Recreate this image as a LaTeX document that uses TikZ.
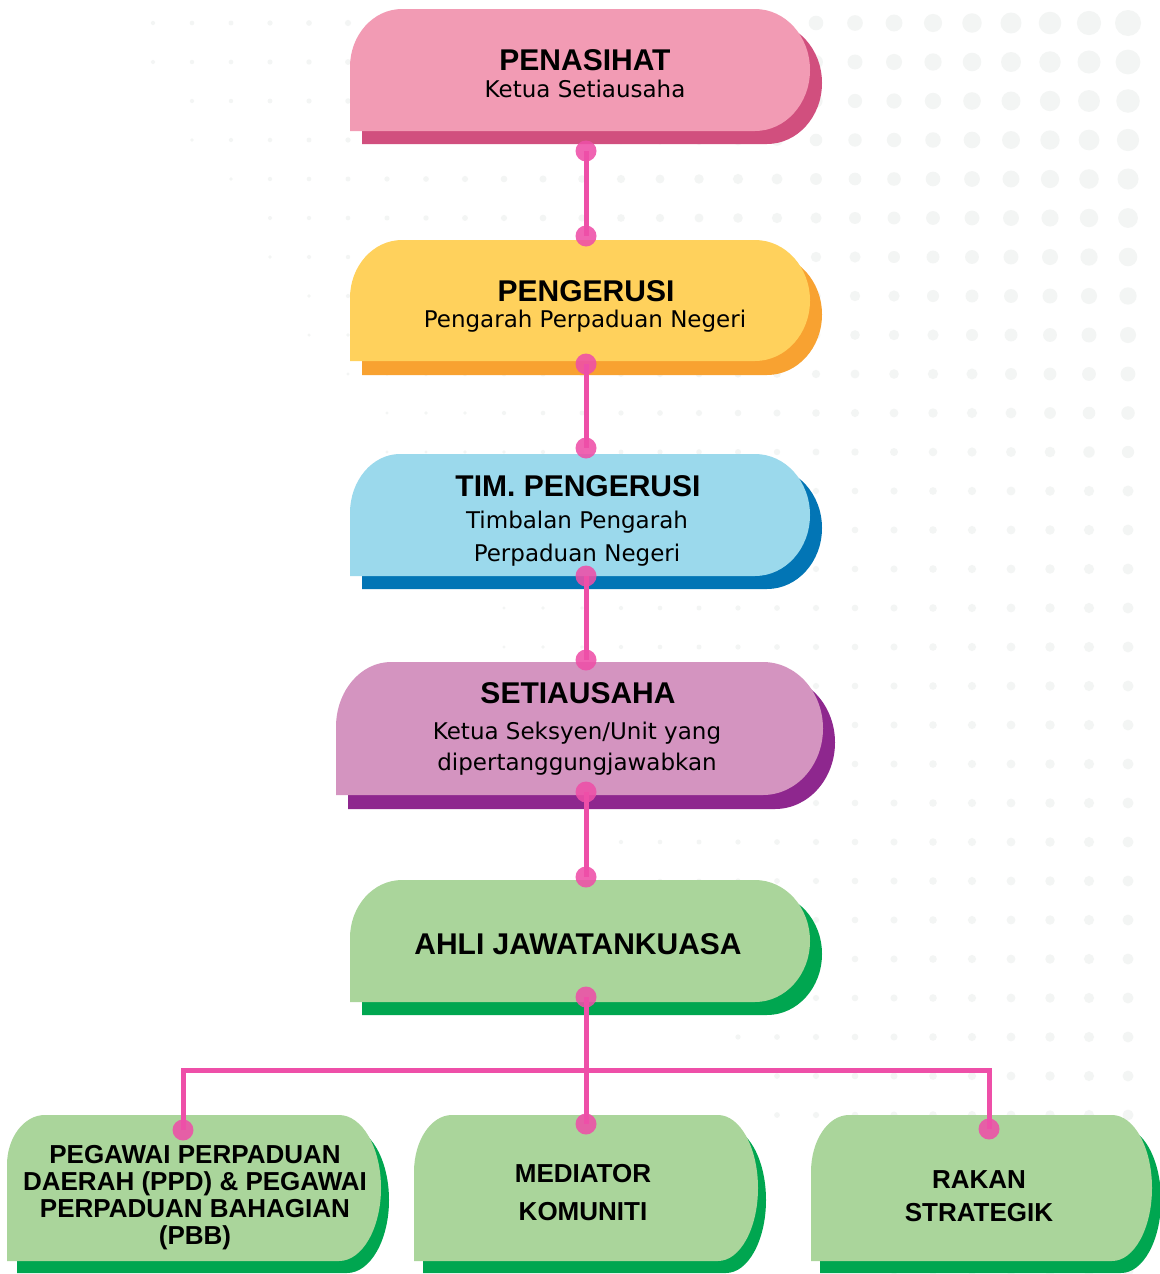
\documentclass[tikz,border=0pt]{standalone}
\usepackage{fontspec}
\setmainfont{Liberation Sans}
\newfontfamily\subf{DejaVu Sans}
\definecolor{pkmain}{HTML}{F29BB4}
\definecolor{pkdark}{HTML}{D14F7E}
\definecolor{ylmain}{HTML}{FFD15C}
\definecolor{yldark}{HTML}{F8A231}
\definecolor{blmain}{HTML}{9BD9EC}
\definecolor{bldark}{HTML}{0275B5}
\definecolor{pumain}{HTML}{D494C0}
\definecolor{pudark}{HTML}{8E278E}
\definecolor{grmain}{HTML}{AAD59B}
\definecolor{grdark}{HTML}{00A650}
\definecolor{linkc}{HTML}{EE4FA8}
\definecolor{dotbg}{HTML}{F3F5F4}
% left top right bottom tl-rx tl-ry right-rx fill
\newcommand\tabshape[8]{%
  \pgfmathsetmacro\tbM{(#2+#4)/2}%
  \pgfmathsetmacro\tbH{(#4-#2)/2}%
  \fill[#8] (#1,#4) -- (#1,{#2+#6})
    .. controls (#1,{#2+0.4477*#6}) and ({#1+0.4477*#5},#2) .. ({#1+#5},#2)
    -- ({#3-#7},#2)
    .. controls ({#3-0.4477*#7},#2) and (#3,{\tbM-0.5523*\tbH}) .. (#3,\tbM)
    .. controls (#3,{\tbM+0.5523*\tbH}) and ({#3-0.4477*#7},#4) .. ({#3-#7},#4)
    -- cycle;}
\tikzset{
  ttl/.style={anchor=base, inner sep=0pt, font=\fontsize{30}{30}\selectfont\bfseries},
  subt/.style={anchor=base, inner sep=0pt, font=\subf\fontsize{23}{23}\selectfont},
  bot/.style={anchor=base, inner sep=0pt, font=\fontsize{26}{26}\selectfont\bfseries},
  linkline/.style={draw=linkc, line width=5pt},
  jdot/.style={fill=linkc, fill opacity=0.88},
}
\begin{document}
\begin{tikzpicture}[x=1pt,y=-1pt]
\fill[white] (0,0) rectangle (1159,1274);
\useasboundingbox (0,0) rectangle (1159,1274);
% background dot pattern
\foreach \k in {0,...,26}{%
  \foreach \j in {0,...,32}{%
    \pgfmathsetmacro\rr{13*0.93^\k*max(0.42,1-0.048*\j)}%
    \pgfmathsetmacro\lim{26-0.6*\j}%
    \ifdim\rr pt>1.2pt
      \ifdim\k pt<\lim pt
        \fill[dotbg] ({1128-39*\k},{23+39*\j}) circle[radius=\rr pt];
      \fi
    \fi
  }%
}
% box 1
\tabshape{362}{22}{822}{144}{52}{58}{55}{pkdark}
\tabshape{350}{9}{810}{131}{52}{58}{55}{pkmain}
% box 2
\tabshape{362}{254}{822}{375}{52}{58}{55}{yldark}
\tabshape{350}{240}{810}{361}{52}{58}{55}{ylmain}
% box 3
\tabshape{362}{467}{822}{589}{50}{59}{55}{bldark}
\tabshape{350}{454}{810}{576}{50}{59}{55}{blmain}
% box 4
\tabshape{348}{676}{835}{809}{55}{65}{60}{pudark}
\tabshape{336}{662}{823}{795}{55}{65}{60}{pumain}
% box 5
\tabshape{362}{893}{822}{1015}{52}{58}{55}{grdark}
\tabshape{350}{880}{810}{1002}{52}{58}{55}{grmain}
% bottom boxes
\tabshape{17}{1127}{389}{1273}{38}{50}{42}{grdark}
\tabshape{7}{1115}{381}{1261}{38}{50}{42}{grmain}
\tabshape{423}{1127}{766}{1273}{38}{57}{40}{grdark}
\tabshape{414}{1115}{758}{1261}{38}{57}{40}{grmain}
\tabshape{820}{1127}{1161}{1273}{38}{57}{40}{grdark}
\tabshape{811}{1115}{1152}{1261}{38}{57}{40}{grmain}

% texts
\node[ttl] (t1) at (585,70) {PENASIHAT};
\node[subt] (s1) at (585,97) {Ketua Setiausaha};
\node[ttl] (t2) at (586,301) {PENGERUSI};
\node[subt] (s2) at (585,327) {Pengarah Perpaduan Negeri};
\node[ttl] (t3) at (578,496) {TIM. PENGERUSI};
\node[subt] (s3a) at (577,528) {Timbalan Pengarah};
\node[subt] (s3b) at (577,561) {Perpaduan Negeri};
\node[ttl] (t4) at (578,703) {SETIAUSAHA};
\node[subt] (s4a) at (577,739) {Ketua Seksyen/Unit yang};
\node[subt] (s4b) at (577,770) {dipertanggungjawabkan};
\node[ttl] (t5) at (578,954) {AHLI JAWATANKUASA};
\node[bot] (b1a) at (195,1163) {PEGAWAI PERPADUAN};
\node[bot] (b1b) at (195,1190) {DAERAH (PPD) \& PEGAWAI};
\node[bot] (b1c) at (195,1217) {PERPADUAN BAHAGIAN};
\node[bot] (b1d) at (195,1244) {(PBB)};
\node[bot] (b2a) at (583,1182) {MEDIATOR};
\node[bot] (b2b) at (583,1220) {KOMUNITI};
\node[bot] (b3a) at (979,1188) {RAKAN};
\node[bot] (b3b) at (979,1221) {STRATEGIK};

% connector points
\coordinate (c1a) at (586,151);
\coordinate (c1b) at (586,236);
\coordinate (c2a) at (586,364);
\coordinate (c2b) at (586,448);
\coordinate (c3a) at (586,576);
\coordinate (c3b) at (586,660);
\coordinate (c4a) at (586,792);
\coordinate (c4b) at (586,877);
\coordinate (c5a) at (586,997);
\coordinate (jl) at (183,1070);
\coordinate (jr) at (989,1070);
\coordinate (e1) at (183,1130);
\coordinate (e2) at (586,1124);
\coordinate (e3) at (989,1129);

\draw[linkline] (c1a) -- (c1b);
\draw[linkline] (c2a) -- (c2b);
\draw[linkline] (c3a) -- (c3b);
\draw[linkline] (c4a) -- (c4b);
\draw[linkline] (c5a) -- (e2);
\draw[linkline] (e1) -- (jl) -- (jr) -- (e3);

\foreach \p in {c1a,c1b,c2a,c2b,c3a,c3b,c4a,c4b,c5a,e1,e2,e3}{
  \fill[jdot] (\p) circle[radius=10.5pt];
}
\end{tikzpicture}
\end{document}
